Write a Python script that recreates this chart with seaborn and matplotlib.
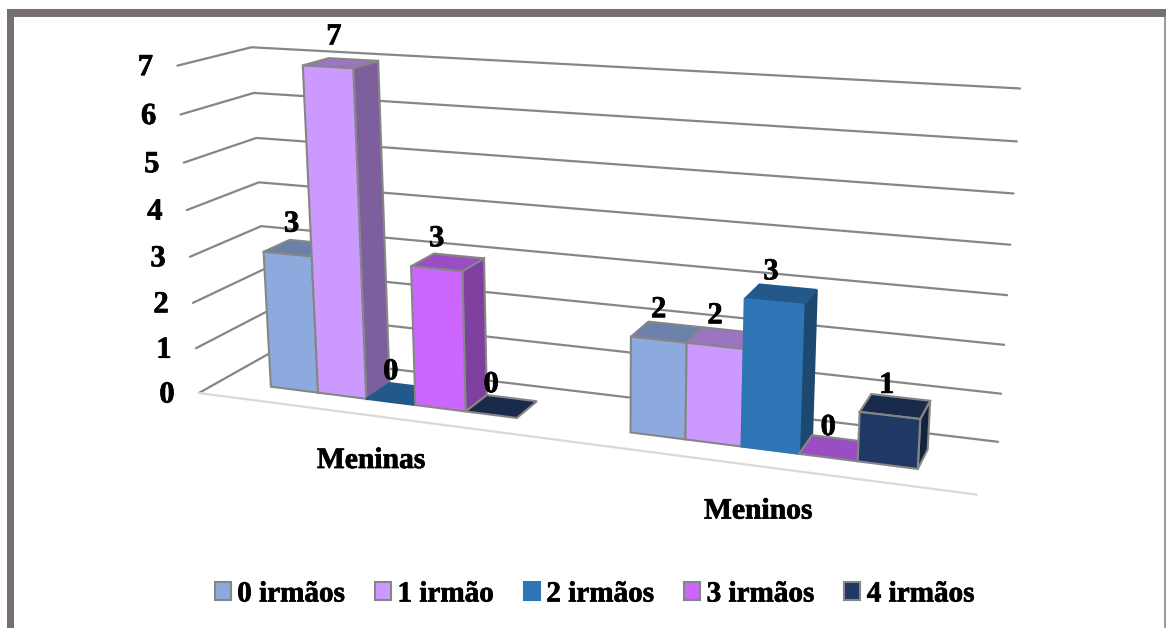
import numpy as np
import pandas as pd
import matplotlib
matplotlib.use("Agg")
import matplotlib.pyplot as plt
import matplotlib.patheffects as pe
from matplotlib.patches import Patch, Polygon, Rectangle
import seaborn as sns

# Data
categories = ["Meninas", "Meninos"]
series = ["0 irmãos", "1 irmão", "2 irmãos", "3 irmãos", "4 irmãos"]
meninas = [3, 7, 0, 3, 0]
meninos = [2, 2, 3, 0, 1]
value_ticks = [0, 1, 2, 3, 4, 5, 6, 7]

# Face colours per series
front_colors = ["#8DAADE", "#CC99FF", "#2E75B6", "#CC66FF", "#1F3864"]

sns.set_theme(style="white")
plt.rcParams["font.family"] = ["Liberation Serif", "DejaVu Serif"]
plt.rcParams["font.weight"] = "bold"
plt.rcParams["text.color"] = "black"

W, H = 1166, 628
EDGE = "#868686"
FONT = 21.3
HEAVY = [pe.withStroke(linewidth=0.5, foreground="black")]

# Camera: perspective projection of (category, depth, value) onto the canvas
scene = [(0, 0, 0), (0, 0, 7), (0, 1, 0), (0, 1, 7), (0, 1, 3),
         (2, 1, 0), (2, 1, 7), (2, 1, 3), (2, 0, 0), (0, 0, 3)]
canvas = [(199, 393), (177, 66), (268, 354), (252, 47), (261, 226),
          (998, 442), (1020, 88), (1007, 296), (977, 494), (190, 257)]
rows = []
for (X, Y, Z), (u, v) in zip(scene, canvas):
    rows.append([X, Y, Z, 1, 0, 0, 0, 0, -u * X, -u * Y, -u * Z, -u])
    rows.append([0, 0, 0, 0, X, Y, Z, 1, -v * X, -v * Y, -v * Z, -v])
CAMERA = np.linalg.svd(np.array(rows, float))[2][-1].reshape(3, 4)


def project(x, d, z):
    p = CAMERA @ np.array([x, d, z, 1.0])
    return p[0] / p[2], p[1] / p[2]


fig = plt.figure(figsize=(W / 100, H / 100), dpi=100, facecolor="white")
ax = fig.add_axes([0, 0, 1, 1])
ax.set_xlim(0, W)
ax.set_ylim(H, 0)
ax.axis("off")

# Outer frame
FRAME = "#756F6E"
ax.add_patch(Rectangle((7, 9), 7, H - 9, color=FRAME, lw=0, zorder=1))
ax.add_patch(Rectangle((7, 9), W - 7, 8, color=FRAME, lw=0, zorder=1))
ax.plot([1165, 1165], [17, H], color="#8C8888", lw=1.2, zorder=1)

# Wall and side-wall gridlines, one polyline per value
grid_rows = []
for v in value_ticks:
    for step, pos in enumerate([(0, 0), (0, 1), (2, 1)]):
        px, py = project(pos[0], pos[1], v)
        grid_rows.append({"px": px, "py": py, "value": v, "step": step})
grid = pd.DataFrame(grid_rows)
sns.lineplot(data=grid, x="px", y="py", units="value", estimator=None, sort=False,
             color=EDGE, lw=1.6, legend=False, ax=ax, zorder=2)
ax.set_xlim(0, W)
ax.set_ylim(H, 0)
ax.axis("off")

# Front edge of the floor
f0, f1 = project(0, 0, 0), project(2, 0, 0)
ax.plot([f0[0], f1[0]], [f0[1], f1[1]], color="#D9D9D9", lw=1.6, zorder=2)

GAP = 0.15
BAR = 0.14
D0, D1 = 0.31, 0.69
UNOUTLINED = {2}  # the mid-blue series carries no grey outline
LABEL_NUDGE = {(0, 0): 4, (0, 1): 6, (1, 2): -3, (1, 4): -3}


def face(points, color, edge, z):
    ax.add_patch(Polygon(points, closed=True, facecolor=color, edgecolor=edge,
                         lw=1.5, joinstyle="miter", zorder=z))


def shade(color, k):
    r, g, b = matplotlib.colors.to_rgb(color)
    return (r * k, g * k, b * k)


order = 3
for g, values in enumerate([meninas, meninos]):
    for s, val in enumerate(values):
        x0 = g + GAP + s * BAR
        x1 = x0 + BAR
        col = front_colors[s]
        plain = s in UNOUTLINED
        if val > 0:
            tone = shade(col, 0.62)
            face([project(x1, D0, val), project(x1, D1, val),
                  project(x1, D1, 0), project(x1, D0, 0)], tone,
                 tone if plain else EDGE, order)
        tone = shade(col, 0.76)
        face([project(x0, D0, val), project(x1, D0, val),
              project(x1, D1, val), project(x0, D1, val)], tone,
             tone if plain else EDGE, order)
        if val > 0:
            face([project(x0, D0, 0), project(x1, D0, 0),
                  project(x1, D0, val), project(x0, D0, val)], col,
                 col if plain else EDGE, order)
        order += 1

# Value labels above each bar's front edge
for g, values in enumerate([meninas, meninos]):
    for s, val in enumerate(values):
        xc = g + GAP + (s + 0.5) * BAR
        px, py = project(xc, D0, val)
        ax.text(px + LABEL_NUDGE.get((g, s), 0), py - 30, str(val), ha="center", va="center",
                fontsize=FONT + 0.7, fontweight="bold", color="black", zorder=50,
                path_effects=HEAVY)

# Value axis labels
for v in value_ticks:
    px, py = project(0, 0, v)
    ax.text(px - 32, py + 2, str(v), ha="center", va="center",
            fontsize=FONT + 0.7, fontweight="bold", color="black", zorder=50,
            path_effects=HEAVY)

# Category labels
for g, name in enumerate(categories):
    px, py = project(g + 0.5, 0, 0)
    ax.text(px, py + 45, name, ha="center", va="center",
            fontsize=FONT, fontweight="bold", color="black", zorder=50,
            path_effects=HEAVY)

# Legend along the bottom
handles = [Patch(facecolor=c, edgecolor=(c if i in UNOUTLINED else EDGE), lw=1.5, label=n)
           for i, (c, n) in enumerate(zip(front_colors, series))]
leg = ax.legend(handles=handles, ncol=5, loc="center", bbox_to_anchor=(594.5, 594),
                bbox_transform=ax.transData, frameon=False, fontsize=21,
                handlelength=0.55, handleheight=0.55, handletextpad=0.22,
                columnspacing=1.035, borderpad=0, borderaxespad=0)
for t in leg.get_texts():
    t.set_color("black")
    t.set_path_effects(HEAVY)

fig.savefig("out.png", dpi=100)
